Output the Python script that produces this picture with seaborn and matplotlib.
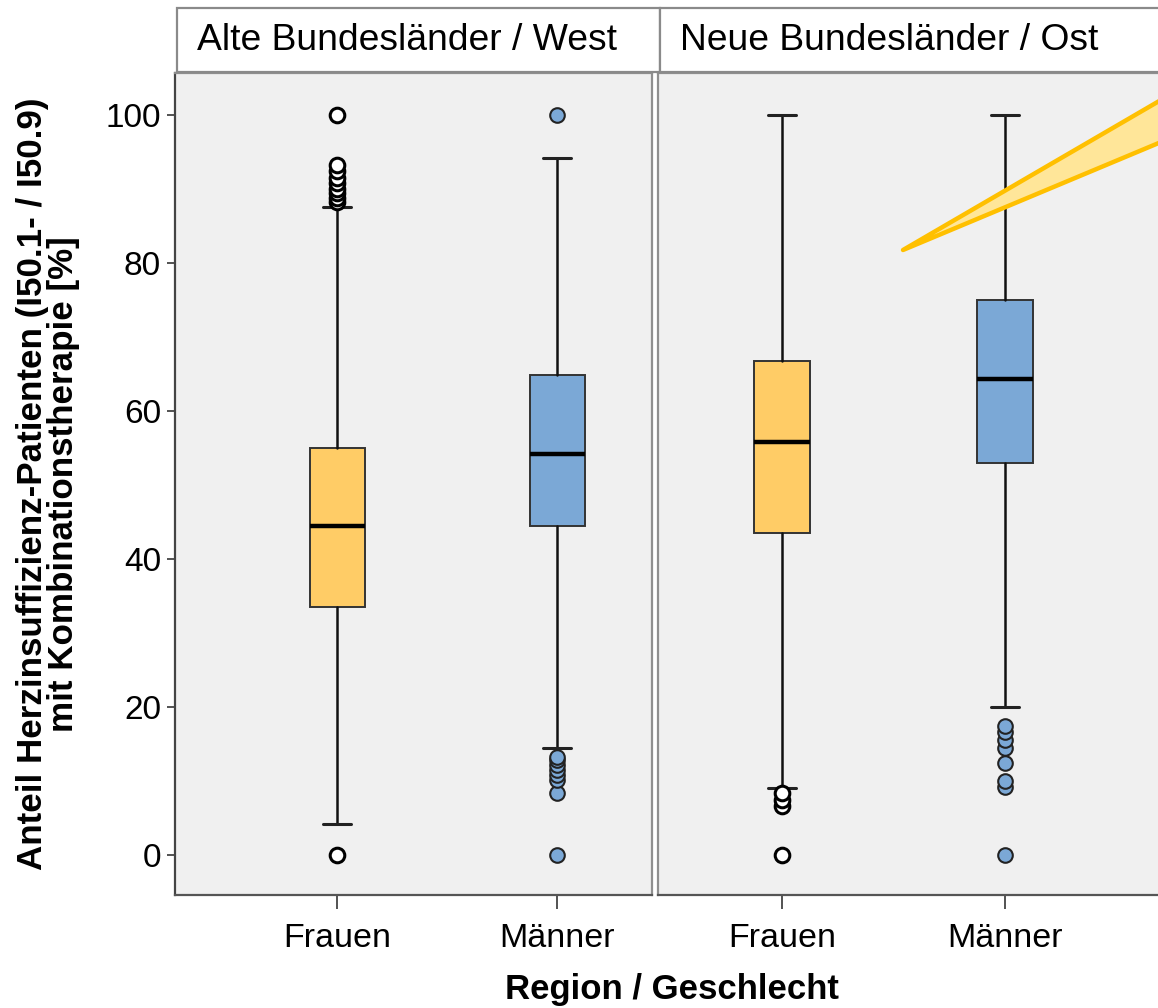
import matplotlib
matplotlib.use("Agg")
import matplotlib.pyplot as plt
from matplotlib import font_manager
from matplotlib.patches import Rectangle, Polygon
import seaborn as sns

# ---- data -------------------------------------------------------------
regions = ["Alte Bundesländer / West", "Neue Bundesländer / Ost"]
groups = ["Frauen", "Männer"]

# box statistics per region, ordered [Frauen, Männer]
q1 = [[33.5, 44.5], [43.5, 53.0]]
median = [[44.5, 54.2], [55.8, 64.3]]
q3 = [[55.0, 64.9], [66.8, 75.0]]
whisker_low = [[4.2, 14.5], [9.1, 20.0]]
whisker_high = [[87.6, 94.2], [100.0, 100.0]]
outliers = [
    [[0.0, 88.2, 88.8, 89.5, 90.0, 90.8, 91.5, 92.5, 93.3, 100.0],
     [0.0, 8.4, 10.2, 10.8, 11.5, 12.2, 12.8, 13.3, 100.0]],
    [[0.0, 6.6, 7.4, 8.4],
     [0.0, 9.2, 10.0, 12.5, 14.4, 15.5, 16.6, 17.4]],
]
yticks = [0, 20, 40, 60, 80, 100]

box_colors = ["#FFCC66", "#7BA8D6"]
flier_faces = ["white", "#7BA8D6"]

# ---- style ------------------------------------------------------------
sns.set_theme(style="white")
plt.rcParams["font.family"] = ["Liberation Sans", "DejaVu Sans"]
for key in ("text.color", "axes.labelcolor", "xtick.labelcolor",
            "ytick.labelcolor"):
    plt.rcParams[key] = "black"

W, H = 1158, 1008
fig = plt.figure(figsize=(W / 100, H / 100), dpi=100)


def px_rect(x0, x1, ytop, ybot):
    return [x0 / W, 1 - ybot / H, (x1 - x0) / W, (ybot - ytop) / H]


panel_px = [(175, 652), (658, 1175)]
cat_px = [(337, 557), (782, 1005)]
ytop, ybot = 73, 895

axes = []
for r, region in enumerate(regions):
    ax = fig.add_axes(px_rect(*panel_px[r], ytop, ybot))
    ax.set_facecolor("#F0F0F0")
    stats = []
    for g, grp in enumerate(groups):
        stats.append(dict(
            label=grp,
            q1=q1[r][g], med=median[r][g], q3=q3[r][g],
            whislo=whisker_low[r][g], whishi=whisker_high[r][g],
            fliers=outliers[r][g],
        ))
    parts = ax.bxp(
        stats, positions=[0, 1], widths=0.25, capwidths=0.13,
        patch_artist=True, showfliers=True,
        boxprops=dict(edgecolor="#333333", linewidth=1.4),
        medianprops=dict(color="black", linewidth=3.2, solid_capstyle="butt"),
        whiskerprops=dict(color="#111111", linewidth=1.8),
        capprops=dict(color="#222222", linewidth=2.2),
        flierprops=dict(marker="o", markersize=10.5, markeredgecolor="black",
                        markeredgewidth=2.2),
    )
    for g, patch in enumerate(parts["boxes"]):
        patch.set_facecolor(box_colors[g])
    for g, fl in enumerate(parts["fliers"]):
        fl.set_markerfacecolor(flier_faces[g])
        if g == 1:
            fl.set_markeredgewidth(1.5)
            fl.set_markeredgecolor("#222222")

    # same spacing between the categories in both panels
    x0, x1 = panel_px[r]
    c0, c1 = cat_px[r]
    unit = c1 - c0
    ax.set_xlim((x0 - c0) / unit, (x1 - c0) / unit)
    ax.set_ylim((ybot - 855) / -7.4, (855 - ytop) / 7.4)
    ax.set_xticks([0, 1])
    ax.set_xticklabels(groups)
    ax.set_yticks(yticks)
    ax.tick_params(axis="x", length=10, width=1.3, color="#444444",
                   labelsize=24.5, pad=10, bottom=True, labelcolor="black")
    ax.tick_params(axis="y", length=6, width=1.3, color="#444444",
                   labelsize=24, pad=4, left=(r == 0), labelleft=(r == 0),
                   labelcolor="black")
    for side, sp in ax.spines.items():
        sp.set_visible(True)
        sp.set_linewidth(1.6)
        sp.set_color("#8f8f8f")
    if r == 0:
        ax.spines["left"].set_color("#444444")
    ax.spines["bottom"].set_color("#555555")
    axes.append(ax)

# ---- facet strips -----------------------------------------------------
strip_px = [(177, 660), (660, 1175)]
for r, region in enumerate(regions):
    sx0, sx1 = strip_px[r]
    fig.add_artist(Rectangle((sx0 / W, 1 - 72 / H), (sx1 - sx0) / W, 64 / H,
                             transform=fig.transFigure, facecolor="white",
                             edgecolor="#8a8a8a", linewidth=1.6))
    fig.text((sx0 + 20) / W, 1 - 41 / H, region, ha="left", va="center",
             fontsize=26.8, color="black")

# ---- axis titles ------------------------------------------------------
fig.text(672 / W, 1 - 990 / H, "Region / Geschlecht", ha="center",
         va="center", fontsize=25, fontweight="bold", color="black")

try:
    font_manager.findfont("Liberation Sans Narrow", fallback_to_default=False)
    ylab_family = ["Liberation Sans Narrow"]
except ValueError:
    ylab_family = ["Liberation Sans"]
ylab = fig.text(48 / W, 1 - 484 / H,
                "Anteil Herzinsuffizienz-Patienten (I50.1- / I50.9)\n"
                "mit Kombinationstherapie [%]",
                rotation=90, ha="center", va="center", fontsize=20,
                fontweight="bold", family=ylab_family, linespacing=0.9,
                color="black")
# scale the title so it spans the same height as the value axis
renderer = fig.canvas.get_renderer()
ext = ylab.get_window_extent(renderer)
ylab.set_fontsize(20 * 772 / ext.height)

# ---- callout wedge ----------------------------------------------------
wedge = [(903, 250), (1185, 86), (1185, 132)]
fig.add_artist(Polygon([(x / W, 1 - y / H) for x, y in wedge], closed=True,
                       transform=fig.transFigure, facecolor="#FFE699",
                       edgecolor="#FFC000", linewidth=3.2, joinstyle="round"))

fig.savefig("out.png", dpi=100)
